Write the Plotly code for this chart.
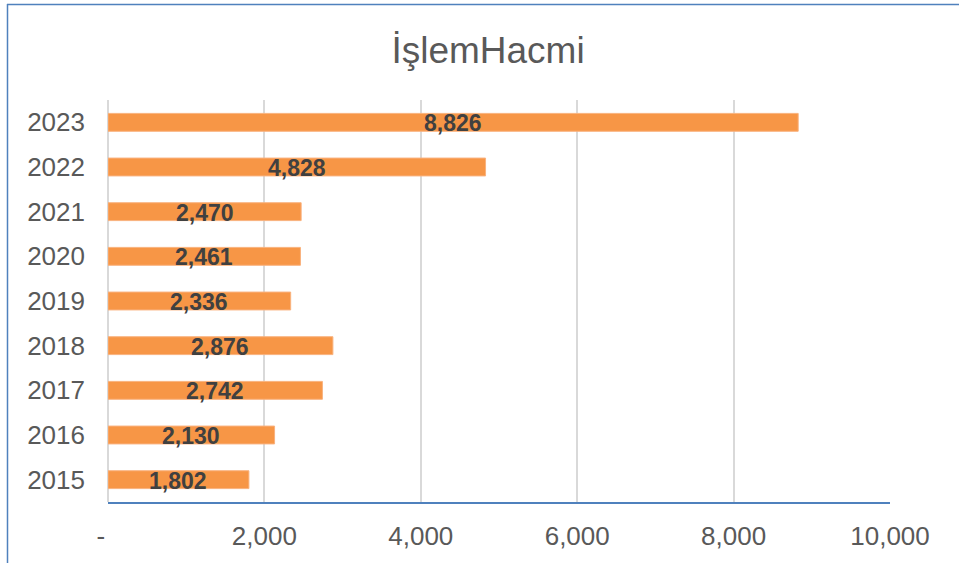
import plotly.graph_objects as go

years = ["2015", "2016", "2017", "2018", "2019", "2020", "2021", "2022", "2023"]
values = [1802, 2130, 2742, 2876, 2336, 2461, 2470, 4828, 8826]
tick_vals = [0, 2000, 4000, 6000, 8000, 10000]
tick_text = ["-  ", "2,000", "4,000", "6,000", "8,000", "10,000"]
title_text = "İşlemHacmi"

W, H = 959, 563
L, R, T, B = 108, 69, 100, 61
pw, ph = W - L - R, H - T - B
FONT = "Liberation Sans, Arial, sans-serif"

fig = go.Figure()
fig.add_trace(go.Bar(
    x=values, y=years, orientation="h",
    marker=dict(color="#F79646", line=dict(color="#F9B27E", width=1)),
    width=0.4, hoverinfo="x+y",
))
# value labels centred in each bar (category index positions)
for i, v in enumerate(values):
    fig.add_annotation(x=v / 2, y=i, text=f"{v:,}", showarrow=False,
                       xanchor="center", yanchor="middle", yshift=-1,
                       font=dict(family=FONT, size=23, color="#404040", weight="bold"))

def px_x(px):
    return (px - L) / pw

def px_y(py):
    return (H - B - py) / ph

border = dict(color="#4F81BD", width=1.5)
fig.add_shape(type="line", xref="paper", yref="paper",
              x0=px_x(7), x1=px_x(990), y0=px_y(4.5), y1=px_y(4.5), line=border)
fig.add_shape(type="line", xref="paper", yref="paper",
              x0=px_x(7.5), x1=px_x(7.5), y0=px_y(4), y1=px_y(600), line=border)

fig.update_layout(
    width=W, height=H,
    margin=dict(l=L, r=R, t=T, b=B, autoexpand=False),
    paper_bgcolor="white", plot_bgcolor="white",
    showlegend=False,
    title=dict(text=title_text, x=488 / W, xanchor="center", y=1 - 50 / H, yanchor="middle",
               font=dict(family=FONT, size=37, color="#595959")),
    font=dict(family=FONT, size=26, color="#595959"),
    xaxis=dict(range=[0, 10000], tickvals=tick_vals, ticktext=tick_text,
               showgrid=True, gridcolor="#D9D9D9", gridwidth=1.5,
               zeroline=True, zerolinecolor="#D9D9D9", zerolinewidth=1.5,
               showline=True, linecolor="#4F81BD", linewidth=2,
               ticks="", ticklabelstandoff=10, fixedrange=True, automargin=False),
    yaxis=dict(type="category", categoryorder="array", categoryarray=years,
               range=[-0.5, len(years) - 0.5],
               showgrid=False, showline=False, ticks="",
               ticklabelstandoff=22, fixedrange=True, automargin=False),
)

fig.write_html("out.html", config={"displayModeBar": False},
               post_script="document.body.style.margin='0';document.body.style.overflow='hidden';")
